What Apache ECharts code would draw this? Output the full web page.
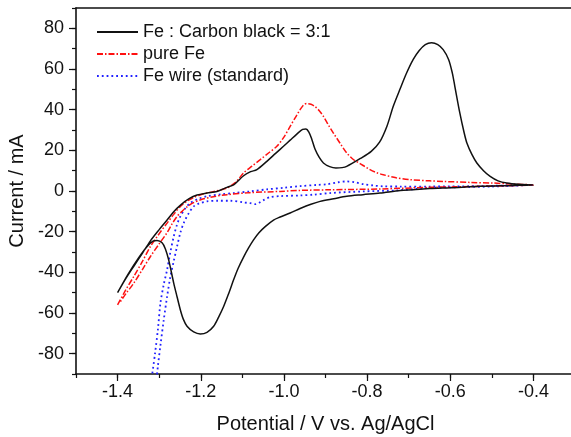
<!DOCTYPE html>
<html>
<head>
<meta charset="utf-8">
<script src="https://cdn.jsdelivr.net/npm/echarts@6/dist/echarts.min.js"></script>
<style>
    html, body { margin: 0; padding: 0; background: #fff; }
    #view1 { width: 571px; height: 437px; }
</style>
</head>
<body>
<div id="view1"></div>
<script>
// Fe : Carbon black = 3:1, anodic scan then cathodic scan  [potential V, current mA]
const cbForward = [
    [-1.400, -50], [-1.380, -43], [-1.361, -37], [-1.340, -30.5], [-1.321, -24.5], [-1.300, -19],
    [-1.281, -14.3], [-1.265, -10.2], [-1.248, -6.8], [-1.228, -3.8], [-1.209, -2], [-1.185, -1],
    [-1.161, -0.2], [-1.137, 1.8], [-1.121, 3], [-1.097, 7.5], [-1.080, 9.5], [-1.065, 10.5],
    [-1.041, 14.6], [-1.020, 18.5], [-1.001, 22], [-0.985, 25], [-0.969, 28], [-0.955, 30.3],
    [-0.947, 30.5], [-0.940, 29], [-0.933, 25.5], [-0.925, 20.5], [-0.915, 16.5], [-0.905, 13.8],
    [-0.890, 12], [-0.875, 11.3], [-0.860, 11.5], [-0.849, 12.1], [-0.816, 16], [-0.790, 19.5],
    [-0.770, 24], [-0.752, 32], [-0.737, 41.7], [-0.720, 50.5], [-0.705, 58], [-0.689, 64.7],
    [-0.675, 69], [-0.660, 72], [-0.645, 72.9], [-0.630, 72], [-0.617, 69.5], [-0.604, 64.7],
    [-0.595, 58], [-0.589, 51.5], [-0.577, 38.4], [-0.567, 29], [-0.560, 23.6], [-0.548, 18],
    [-0.536, 13.8], [-0.520, 10], [-0.504, 7.2], [-0.485, 5], [-0.464, 3.9], [-0.435, 3.3],
    [-0.400, 3]
]
const cbReverse = [
    [-0.400, 3], [-0.450, 2.7], [-0.528, 2.3], [-0.600, 1.6], [-0.649, 1.2], [-0.689, 0.6],
    [-0.720, 0.2], [-0.769, -1], [-0.810, -1.8], [-0.849, -2.6], [-0.880, -3.8], [-0.913, -5.1],
    [-0.935, -6.5], [-0.961, -8.6], [-0.985, -10.8], [-1.009, -12.8], [-1.025, -14.3], [-1.045, -17.5],
    [-1.060, -20.5], [-1.073, -24], [-1.085, -28], [-1.097, -32.5], [-1.110, -38], [-1.121, -43.7],
    [-1.133, -50.5], [-1.145, -56.8], [-1.157, -62], [-1.169, -66.5], [-1.185, -69.5], [-1.201, -70.3],
    [-1.217, -69.3], [-1.233, -66.5], [-1.242, -63], [-1.249, -58.5], [-1.257, -52], [-1.265, -45.3],
    [-1.277, -34], [-1.285, -28.5], [-1.293, -25.5], [-1.305, -24.3], [-1.315, -24.6], [-1.330, -27.5],
    [-1.350, -33], [-1.375, -41], [-1.400, -50]
]

// pure Fe
const feForward = [
    [-1.400, -56], [-1.380, -48.5], [-1.361, -42], [-1.340, -34.5], [-1.321, -27.3], [-1.300, -21],
    [-1.281, -15.8], [-1.265, -11.5], [-1.249, -7.6], [-1.233, -5], [-1.217, -3.2], [-1.200, -1.8],
    [-1.170, -0.3], [-1.137, 1.5], [-1.115, 4.5], [-1.097, 8.9], [-1.077, 12.2], [-1.057, 15.4],
    [-1.037, 18.7], [-1.017, 22], [-1.000, 26.5], [-0.985, 31.8], [-0.970, 37], [-0.961, 40],
    [-0.952, 42.5], [-0.945, 43], [-0.935, 42.7], [-0.925, 41.5], [-0.915, 39.5], [-0.905, 36.7],
    [-0.893, 32.5], [-0.881, 28.5], [-0.865, 23.5], [-0.849, 18.7], [-0.833, 15.5], [-0.817, 13.5],
    [-0.793, 10.5], [-0.777, 9], [-0.761, 8], [-0.730, 6.5], [-0.697, 5.6], [-0.650, 5],
    [-0.617, 4.7], [-0.550, 4.2], [-0.496, 3.9], [-0.450, 3.4], [-0.400, 3]
]
const feReverse = [
    [-0.400, 3], [-0.528, 2.3], [-0.649, 1.8], [-0.769, 1], [-0.889, 0.6], [-0.961, 0.3],
    [-1.009, -0.2], [-1.081, -0.8], [-1.137, -1.8], [-1.170, -2.8], [-1.200, -4.3], [-1.220, -6],
    [-1.233, -7.8], [-1.245, -10], [-1.257, -12.5], [-1.270, -16.5], [-1.281, -20.5], [-1.300, -26],
    [-1.321, -32.2], [-1.340, -38.5], [-1.361, -45.3], [-1.380, -50.5], [-1.395, -55]
]

// Fe wire (standard)
const wireForward = [
    [-1.318, -92], [-1.310, -80], [-1.303, -68], [-1.297, -55.2], [-1.289, -46], [-1.281, -38.8],
    [-1.273, -30], [-1.265, -22.4], [-1.257, -16.5], [-1.249, -12.5], [-1.237, -8.5], [-1.225, -5.9],
    [-1.205, -3.8], [-1.185, -2.6], [-1.150, -1.6], [-1.121, -1], [-1.081, -0.2], [-1.041, 0.8],
    [-1.000, 1.6], [-0.961, 2.4], [-0.920, 3], [-0.897, 3.3], [-0.870, 4.3], [-0.850, 4.7],
    [-0.830, 4.3], [-0.809, 3.4], [-0.785, 2.7], [-0.761, 2.3], [-0.720, 2.2], [-0.649, 2.2],
    [-0.528, 2.4], [-0.450, 2.8], [-0.400, 3]
]
const wireReverse = [
    [-0.400, 3], [-0.500, 2.2], [-0.600, 1.8], [-0.649, 1.5], [-0.728, 0.3], [-0.809, -0.2],
    [-0.889, -1], [-0.929, -1.8], [-0.961, -2.2], [-1.009, -2.5], [-1.033, -3], [-1.049, -4.5],
    [-1.060, -5.8], [-1.069, -6.5], [-1.081, -6], [-1.097, -5.6], [-1.129, -4.8], [-1.160, -4.8],
    [-1.185, -5.1], [-1.205, -6.2], [-1.217, -7.6], [-1.229, -11], [-1.241, -15.8], [-1.249, -20.5],
    [-1.257, -27.3], [-1.265, -34.5], [-1.273, -42.1], [-1.281, -52], [-1.289, -63.4], [-1.297, -76],
    [-1.303, -86], [-1.306, -92]
]

const seriesNames = ['Fe : Carbon black = 3:1', 'pure Fe', 'Fe wire (standard)']
const xMajorTicks = [-1.4, -1.2, -1.0, -0.8, -0.6, -0.4]
const yMajorTicks = [-80, -60, -40, -20, 0, 20, 40, 60, 80]

const font = "'Liberation Sans', Arial, sans-serif"
const ink = '#111'

let style = {
    animation: false,
    grid: {
        left: 76,
        top: 8,
        right: -4,
        bottom: 63,
        outerBoundsMode: 'none'
    },
    legend: {
        orient: 'vertical',
        left: 91,
        top: 18,
        itemWidth: 41,
        itemHeight: 14,
        itemGap: 4,
        itemStyle: {color: 'rgba(0,0,0,0)', borderWidth: 0},
        textStyle: {
            fontFamily: font,
            fontSize: 18,
            color: ink
        },
        data: seriesNames
    },
    xAxis: [
        {
            type: 'value',
            min: -1.5,
            max: -0.3,
            interval: 0.1,
            name: 'Potential / V vs. Ag/AgCl',
            nameLocation: 'middle',
            nameGap: 40,
            nameTextStyle: {fontFamily: font, fontSize: 20, color: ink},
            axisLine: {onZero: false, lineStyle: {color: ink, width: 1.6}},
            axisTick: {length: 4, lineStyle: {color: ink, width: 1.2}},
            axisLabel: {
                margin: 9,
                fontFamily: font,
                fontSize: 18,
                color: ink,
                formatter: v => Math.round(v * 10) % 2 === 0 ? v.toFixed(1) : ''
            },
            splitLine: {show: false}
        },
        {
            type: 'value',
            min: -1.5,
            max: -0.3,
            position: 'bottom',
            axisLine: {show: false, onZero: false},
            axisTick: {length: 7, customValues: xMajorTicks, lineStyle: {color: ink, width: 1.2}},
            axisLabel: {show: false},
            splitLine: {show: false}
        },
        {
            type: 'value',
            min: -1.5,
            max: -0.3,
            position: 'top',
            axisLine: {onZero: false, lineStyle: {color: ink, width: 1.6}},
            axisTick: {show: false},
            axisLabel: {show: false},
            splitLine: {show: false}
        }
    ],
    yAxis: [
        {
            type: 'value',
            min: -90,
            max: 90,
            interval: 10,
            name: 'Current / mA',
            nameLocation: 'middle',
            nameGap: 48,
            nameTextStyle: {fontFamily: font, fontSize: 20, color: ink},
            axisLine: {onZero: false, lineStyle: {color: ink, width: 1.6}},
            axisTick: {length: 4, lineStyle: {color: ink, width: 1.2}},
            axisLabel: {
                margin: 12,
                fontFamily: font,
                fontSize: 18,
                color: ink,
                formatter: v => (Math.round(v) % 20 === 0 && Math.abs(v) < 90) ? String(Math.round(v)) : ''
            },
            splitLine: {show: false}
        },
        {
            type: 'value',
            min: -90,
            max: 90,
            position: 'left',
            axisLine: {show: false, onZero: false},
            axisTick: {length: 7, customValues: yMajorTicks, lineStyle: {color: ink, width: 1.2}},
            axisLabel: {show: false},
            splitLine: {show: false}
        },
        {
            type: 'value',
            min: -90,
            max: 90,
            position: 'right',
            axisLine: {onZero: false, lineStyle: {color: ink, width: 1.6}},
            axisTick: {show: false},
            axisLabel: {show: false},
            splitLine: {show: false}
        }
    ],
    series: [
        {
            name: seriesNames[0],
            type: 'line',
            symbol: 'none',
            smooth: 0.3,
            data: cbForward.concat(cbReverse),
            lineStyle: {color: '#111', width: 1.5},
            itemStyle: {color: '#111'},
            z: 3
        },
        {
            name: seriesNames[1],
            type: 'line',
            symbol: 'none',
            smooth: 0.3,
            data: feForward.concat(feReverse),
            lineStyle: {color: '#ff1010', width: 1.5, type: [6, 2, 1.5, 2]},
            itemStyle: {color: '#ff1010'},
            z: 2
        },
        {
            name: seriesNames[2],
            type: 'line',
            symbol: 'none',
            smooth: 0.3,
            data: wireForward.concat(wireReverse),
            lineStyle: {color: '#2020ff', width: 1.8, type: [1.8, 3]},
            itemStyle: {color: '#2020ff'},
            z: 1
        }
    ]
}

let myChart = echarts.init(document.getElementById('view1'))
myChart.setOption(style)
</script>
</body>
</html>
